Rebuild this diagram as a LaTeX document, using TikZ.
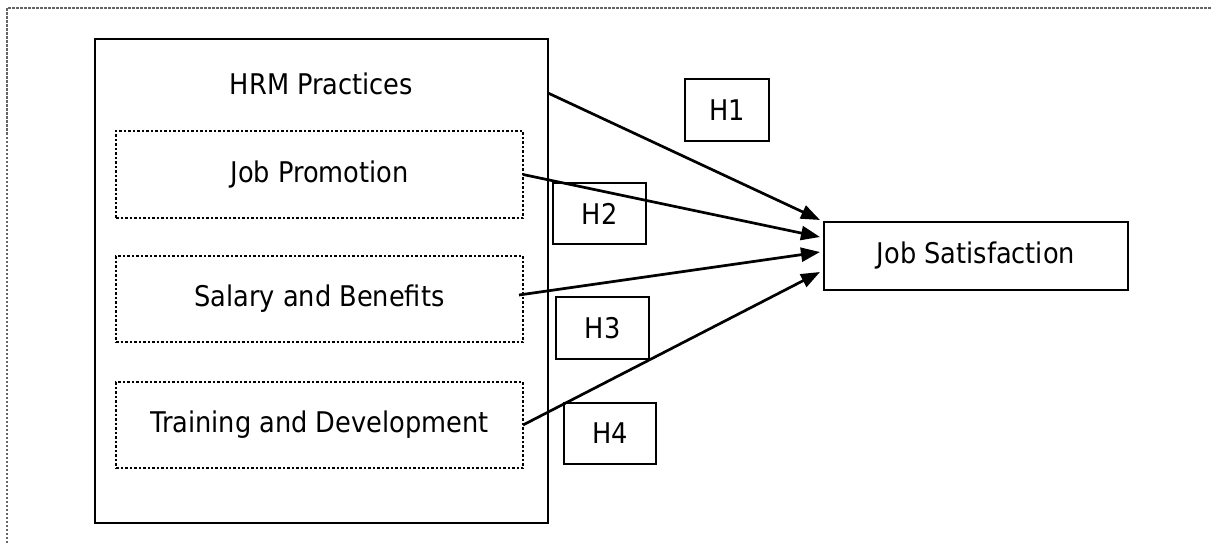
\documentclass[tikz,border=0pt]{standalone}
\usepackage{fontspec}
\setmainfont{DejaVu Sans Condensed}
\usetikzlibrary{arrows.meta}

\begin{document}
\begin{tikzpicture}[x=1pt, y=-1pt, >={Triangle[length=19pt,width=14pt]},
    box/.style={draw, line width=1.4pt, outer sep=0pt, inner sep=0pt},
    dotbox/.style={draw, line width=2.5pt, dash pattern=on 2.5pt off 2pt, outer sep=0pt, inner sep=0pt},
    hbox/.style={draw, line width=1.1pt, outer sep=0pt, inner sep=0pt},
    link/.style={->, line width=2.7pt}]
    \useasboundingbox (0,0) rectangle (1211,543);
    \fontsize{28.5}{33}\selectfont
    % page frame
    \draw[black!60, line width=1.2pt, dash pattern=on 2.5pt off 1.5pt] (7,543) -- (7,8) -- (1211,8);
    % HRM practices and its parts
    \node[box, minimum width=453pt, minimum height=484pt] (hrm) at (321.5,281) {};
    \node (hrmlabel) at (321.5,84) {HRM Practices};
    \node[dotbox, minimum width=407pt, minimum height=87pt] (promo) at (319.5,174.5) {Job Promotion};
    \node[dotbox, minimum width=407pt, minimum height=86pt] (salary) at (319.5,299) {Salary and Benefits};
    \node[dotbox, minimum width=407pt, minimum height=86pt] (train) at (319.5,425) {Training and Development};
    % outcome
    \node[box, minimum width=304pt, minimum height=68pt] (js) at (976,256) {Job Satisfaction};
    % hypotheses
    \node[hbox, minimum width=84pt, minimum height=62pt] (h1) at (727,110) {H1};
    \node[hbox, minimum width=93pt, minimum height=61pt] (h2) at (599.5,213.5) {H2};
    \node[hbox, minimum width=93pt, minimum height=62pt] (h3) at (602.5,328) {H3};
    \node[hbox, minimum width=92pt, minimum height=61pt] (h4) at (610,433.5) {H4};
    % paths
    \coordinate (hrmout) at (548,93);
    \draw[link] (hrmout) -- ([xshift=-4pt,yshift=36pt]js.west);
    \draw[link] (promo.east) -- ([xshift=-4pt,yshift=19pt]js.west);
    \draw[link] ([xshift=-4pt,yshift=4pt]salary.east) -- ([xshift=-4pt,yshift=4pt]js.west);
    \draw[link] (train.east) -- ([xshift=-4pt,yshift=-16pt]js.west);
\end{tikzpicture}
\end{document}
